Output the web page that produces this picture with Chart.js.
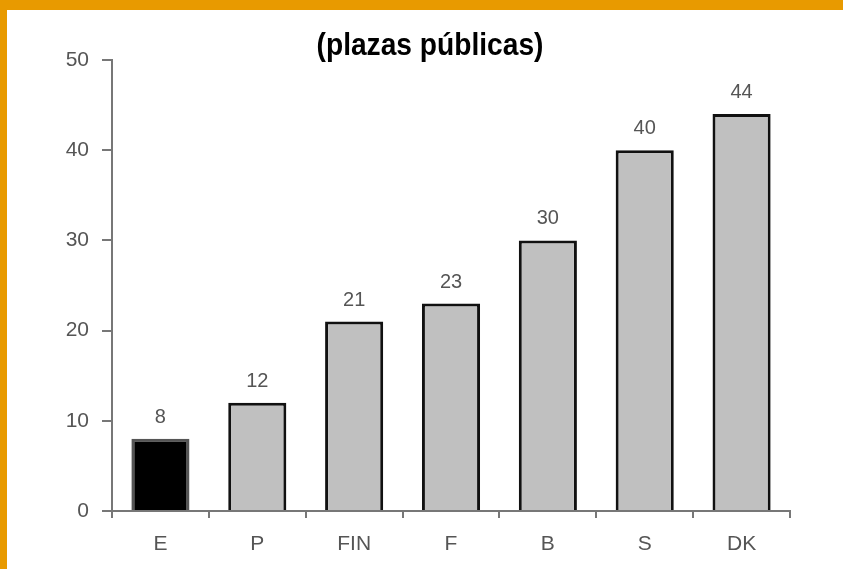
<!DOCTYPE html>
<html>
<head>
<meta charset="utf-8">
<script src="https://cdn.jsdelivr.net/npm/chart.js@4.4.0/dist/chart.umd.min.js"></script>
<style>
  html, body { margin: 0; padding: 0; background: #fff; }
  #wrap {
    position: absolute; left: 0; top: 0;
    width: 836px; height: 559px;
    border-top: 10px solid #e89a00;
    border-left: 7px solid #e89a00;
    background: #fff;
  }
</style>
</head>
<body>
<div id="wrap"><canvas id="grafico" width="836" height="559"></canvas></div>
<script>
// Datos del gráfico
const paises = ['E', 'P', 'FIN', 'F', 'B', 'S', 'DK'];
const plazas = [8, 12, 21, 23, 30, 40, 44];
const coloresBarra = ['#000000', '#c0c0c0', '#c0c0c0', '#c0c0c0', '#c0c0c0', '#c0c0c0', '#c0c0c0'];
const bordesBarra = ['#555555', '#111111', '#111111', '#111111', '#111111', '#111111', '#111111'];
const marcasY = [0, 10, 20, 30, 40, 50];
const titulo = '(plazas públicas)';

// Título dibujado a mano (letra estrecha, centrado como en la imagen original)
const tituloPlugin = {
    id: 'tituloPlugin',
    afterDraw(chart) {
        const ctx = chart.ctx;
        ctx.save();
        ctx.font = 'bold 32px "Liberation Sans", Arial, sans-serif';
        ctx.fillStyle = '#000';
        ctx.textAlign = 'center';
        ctx.textBaseline = 'alphabetic';
        ctx.translate(423, 45);
        ctx.scale(0.88, 1);
        ctx.fillText(titulo, 0, 0);
        ctx.restore();
    }
};

// Etiquetas encima de cada barra
const etiquetasValor = {
    id: 'etiquetasValor',
    afterDatasetsDraw(chart) {
        const ctx = chart.ctx;
        const meta = chart.getDatasetMeta(0);
        ctx.save();
        ctx.font = '20px "Liberation Sans", Arial, sans-serif';
        ctx.fillStyle = '#555';
        ctx.textAlign = 'center';
        ctx.textBaseline = 'alphabetic';
        meta.data.forEach((bar, i) => {
            ctx.fillText(String(plazas[i]), bar.x, bar.y - 16);
        });
        ctx.restore();
    }
};

var ctx = document.getElementById('grafico').getContext('2d');
var grafico = new Chart(ctx, {
    type: 'bar',
    data: {
        labels: paises,
        datasets: [{
            data: plazas,
            backgroundColor: coloresBarra,
            borderColor: bordesBarra,
            borderWidth: 3,
            barPercentage: 0.6,
            categoryPercentage: 1.0
        }]
    },
    options: {
        responsive: false,
        animation: false,
        layout: {
            padding: { left: 0, right: 53, top: 50, bottom: 0 }
        },
        plugins: {
            legend: { display: false },
            tooltip: { enabled: false },
            title: { display: false }
        },
        scales: {
            y: {
                min: 0,
                max: 50,
                afterBuildTicks(scale) {
                    scale.ticks = marcasY.map(v => ({ value: v }));
                },
                afterFit(scale) {
                    scale.width = 105;
                },
                border: { color: '#777', width: 2 },
                grid: { drawOnChartArea: false, color: '#777', tickLength: 10, lineWidth: 2 },
                ticks: {
                    color: '#555',
                    padding: 13,
                    font: { family: '"Liberation Sans", Arial, sans-serif', size: 21 }
                }
            },
            x: {
                border: { color: '#777', width: 2 },
                grid: { drawOnChartArea: false, color: '#777', tickLength: 7, lineWidth: 2 },
                ticks: {
                    color: '#555',
                    padding: 14,
                    font: { family: '"Liberation Sans", Arial, sans-serif', size: 21 }
                },
                afterFit(scale) {
                    scale.height = 58;
                }
            }
        }
    },
    plugins: [etiquetasValor, tituloPlugin]
});
</script>
</body>
</html>
